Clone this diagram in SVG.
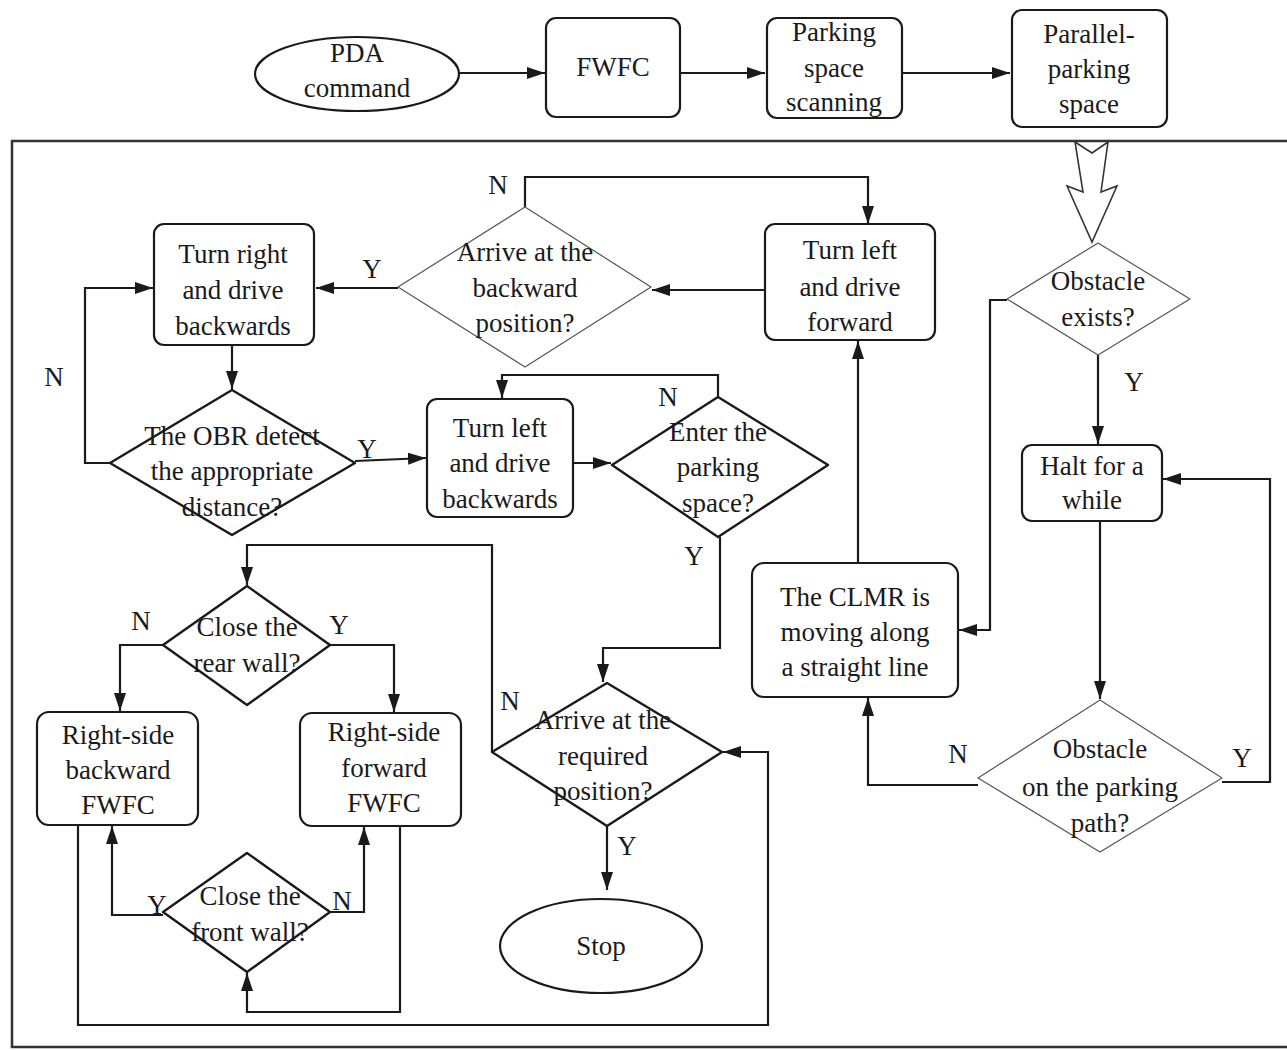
<svg xmlns="http://www.w3.org/2000/svg" width="1287" height="1050" viewBox="0 0 1287 1050">
<defs>
<marker id="ah" viewBox="0 0 18 12" refX="18" refY="6" markerWidth="18" markerHeight="12" markerUnits="userSpaceOnUse" orient="auto"><path d="M0,0 L18,6 L0,12 z" fill="#1a1a1a"/></marker>
</defs>
<style>
text{font-family:"Liberation Serif","Times New Roman",serif;font-size:27px;fill:#1a1a1a;text-anchor:middle}
.box{fill:#fff;stroke:#1a1a1a;stroke-width:2.2}
.dk{fill:#fff;stroke:#1a1a1a;stroke-width:2.4;stroke-linejoin:round}
.lt{fill:#fff;stroke:#555;stroke-width:1.2;stroke-linejoin:round}
.ca{fill:none;stroke:#1a1a1a;stroke-width:2.2;marker-end:url(#ah)}
</style>
<rect width="1287" height="1050" fill="#fff"/>
<path d="M1287,141 H12 V1047 H1287" fill="none" stroke="#333" stroke-width="2.5"/>

<g id="connectors">
<path class="ca" d="M458,73 H545"/>
<path class="ca" d="M680,73 H765"/>
<path class="ca" d="M902,73 H1010"/>
<path d="M1075,142 L1092,153 L1108,142 L1101,192 L1117,186 L1092,242 L1067,186 L1083,192 Z" fill="#fff" stroke="#333" stroke-width="1.6"/>
<path class="ca" d="M765,290 H652"/>
<path class="ca" d="M525,207 V177 H868 V224"/>
<path class="ca" d="M398,288 H316"/>
<path class="ca" d="M232,345 V389"/>
<path class="ca" d="M110,463 H85 V288 H153"/>
<path class="ca" d="M355,461 L426,458"/>
<path class="ca" d="M573,463 H611"/>
<path class="ca" d="M718,397 V375 H502 V398"/>
<path class="ca" d="M720,537 V648 H603 V682"/>
<path class="ca" d="M492,752 V545 H247 V585"/>
<path class="ca" d="M607,826 V890"/>
<path class="ca" d="M163,645 H120 V711"/>
<path class="ca" d="M330,645 H394 V712"/>
<path class="ca" d="M163,915 H112 V826"/>
<path class="ca" d="M330,912 H364 V827"/>
<path class="ca" d="M400,826 V1012 H247 V973"/>
<path class="ca" d="M78,825 V1025 H768 V752 H723"/>
<path class="ca" d="M1007,300 H990 V630 H959"/>
<path class="ca" d="M858,563 V341"/>
<path class="ca" d="M1098,355 V444"/>
<path class="ca" d="M1100,521 V699"/>
<path class="ca" d="M978,785 H868 V698"/>
<path class="ca" d="M1222,782 H1270 V479 H1163"/>
</g>

<g id="labels">
<text x="498" y="194">N</text>
<text x="372" y="278">Y</text>
<text x="54" y="386">N</text>
<text x="367" y="458">Y</text>
<text x="668" y="406">N</text>
<text x="694" y="565">Y</text>
<text x="510" y="710">N</text>
<text x="627" y="855">Y</text>
<text x="141" y="630">N</text>
<text x="339" y="634">Y</text>
<text x="157" y="914">Y</text>
<text x="342" y="910">N</text>
<text x="1134" y="391">Y</text>
<text x="958" y="763">N</text>
<text x="1242" y="767">Y</text>
</g>

<g id="pda"><ellipse cx="357" cy="74" rx="102" ry="37" class="box"/><text x="357" y="62">PDA</text><text x="357" y="97">command</text></g>
<g id="fwfc"><rect x="546" y="18" width="134" height="99" rx="10" class="box"/><text x="613" y="76">FWFC</text></g>
<g id="scan"><rect x="767" y="18" width="135" height="100" rx="10" class="box"/><text x="834" y="41">Parking</text><text x="834" y="77">space</text><text x="834" y="111">scanning</text></g>
<g id="parallel"><rect x="1012" y="10" width="155" height="117" rx="10" class="box"/><text x="1089" y="43">Parallel-</text><text x="1089" y="78">parking</text><text x="1089" y="113">space</text></g>

<g id="obstacle-exists"><polygon points="1098,243 1190,299 1098,355 1007,299" class="lt"/><text x="1098" y="290">Obstacle</text><text x="1098" y="326">exists?</text></g>
<g id="turn-left-forward"><rect x="765" y="224" width="170" height="116" rx="10" class="box"/><text x="850" y="259">Turn left</text><text x="850" y="296">and drive</text><text x="850" y="331">forward</text></g>
<g id="arrive-backward"><polygon points="525,207 651,287 525,367 398,287" class="lt"/><text x="525" y="261">Arrive at the</text><text x="525" y="297">backward</text><text x="525" y="332">position?</text></g>
<g id="turn-right-back"><rect x="154" y="224" width="160" height="121" rx="10" class="box"/><text x="233" y="263">Turn right</text><text x="233" y="299">and drive</text><text x="233" y="335">backwards</text></g>
<g id="obr"><polygon points="232,390 355,463 232,535 110,463" class="dk"/><text x="232" y="445">The OBR detect</text><text x="232" y="480">the appropriate</text><text x="232" y="516">distance?</text></g>
<g id="turn-left-back"><rect x="427" y="399" width="146" height="118" rx="10" class="box"/><text x="500" y="437">Turn left</text><text x="500" y="472">and drive</text><text x="500" y="508">backwards</text></g>
<g id="enter"><polygon points="718,397 828,465 718,537 612,465" class="dk"/><text x="718" y="441">Enter the</text><text x="718" y="476">parking</text><text x="718" y="512">space?</text></g>
<g id="arrive-required"><polygon points="607,683 722,752 607,826 492,752" class="dk"/><text x="603" y="729">Arrive at the</text><text x="603" y="765">required</text><text x="603" y="800">position?</text></g>
<g id="stop"><ellipse cx="601" cy="946" rx="101" ry="47" class="box"/><text x="601" y="955">Stop</text></g>
<g id="rear-wall"><polygon points="247,586 330,645 247,705 163,645" class="dk"/><text x="247" y="636">Close the</text><text x="247" y="672">rear wall?</text></g>
<g id="rs-backward"><rect x="37" y="712" width="161" height="113" rx="12" class="box"/><text x="118" y="744">Right-side</text><text x="118" y="779">backward</text><text x="118" y="814">FWFC</text></g>
<g id="rs-forward"><rect x="300" y="713" width="161" height="113" rx="12" class="box"/><text x="384" y="741">Right-side</text><text x="384" y="777">forward</text><text x="384" y="812">FWFC</text></g>
<g id="front-wall"><polygon points="247,853 330,912 247,972 163,912" class="dk"/><text x="250" y="905">Close the</text><text x="250" y="941">front wall?</text></g>
<g id="clmr"><rect x="752" y="563" width="206" height="134" rx="12" class="box"/><text x="855" y="606">The CLMR is</text><text x="855" y="641">moving along</text><text x="855" y="676">a straight line</text></g>
<g id="halt"><rect x="1022" y="445" width="140" height="76" rx="10" class="box"/><text x="1092" y="475">Halt for a</text><text x="1092" y="509">while</text></g>
<g id="obstacle-path"><polygon points="1100,700 1222,778 1100,852 978,778" class="lt"/><text x="1100" y="758">Obstacle</text><text x="1100" y="796">on the parking</text><text x="1100" y="832">path?</text></g>
</svg>
